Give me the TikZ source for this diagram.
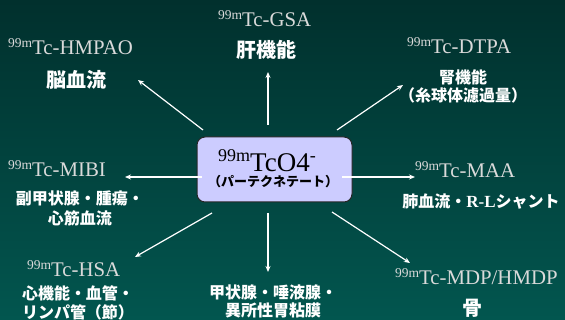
\documentclass[tikz,border=0pt]{standalone}
\usepackage{fontspec}
\setmainfont{Liberation Serif}
\newfontfamily\jp{Noto Sans CJK JP}
\usetikzlibrary{arrows.meta}
\definecolor{bgtop}{HTML}{01302D}
\definecolor{bgbot}{HTML}{02564F}
\definecolor{boxfill}{HTML}{CCCCFF}
\definecolor{lbl}{HTML}{DADADA}
\newcommand\tcname[1]{\raisebox{7pt}{\fontsize{13.5}{13.5}\selectfont 99m}#1}
\begin{document}
\begin{tikzpicture}[x=1pt,y=-1pt,
  lab/.style={anchor=base west,inner sep=0,text=lbl,font=\fontsize{20.8}{21}\selectfont},
  jpl/.style={inner sep=0,text=white,font=\jp\bfseries\fontsize{16}{19}\selectfont,align=center},
  jpbig/.style={jpl,font=\jp\bfseries\fontsize{20}{22}\selectfont},
  arr/.style={draw=white,line width=1.2pt,-{Stealth[length=6pt,width=5pt]}}]
\useasboundingbox (0,0) rectangle (565,320);
\shade[top color=bgtop,bottom color=bgbot] (0,0) rectangle (565,320);
% centre box
\node[draw=black!85,line width=1pt,fill=boxfill,rounded corners=8pt,minimum width=155pt,minimum height=65pt,inner sep=0] (c) at (274.5,169.5) {};
\node[anchor=base west,inner sep=0,font=\fontsize{27}{27}\selectfont] (ct) at (218,172) {\raisebox{10pt}{\fontsize{18}{18}\selectfont 99m}TcO4\raisebox{10pt}{\fontsize{18}{18}\selectfont -}};
\node[inner sep=0,font=\jp\bfseries\fontsize{13}{13}\selectfont] (cj) at (273,182) {（パーテクネテート）};
% labels
\node[lab] (t1) at (8,55) {\tcname{Tc-HMPAO}};
\node[jpbig] (j1) at (76,80) {脳血流};
\node[lab] (t2) at (218,27) {\tcname{Tc-GSA}};
\node[jpbig] (j2) at (266,50) {肝機能};
\node[lab] (t3) at (407,54) {\tcname{Tc-DTPA}};
\node[jpl,font=\jp\bfseries\fontsize{16}{18}\selectfont] (j3) at (463,86) {腎機能\\（糸球体濾過量）};
\node[lab] (t4) at (8,177) {\tcname{Tc-MIBI}};
\node[jpl,font=\jp\bfseries\fontsize{16}{20}\selectfont] (j4) at (80,208) {副甲状腺・腫瘍・\\心筋血流};
\node[lab] (t5) at (415,178) {\tcname{Tc-MAA}};
\node[jpl] (j5) at (481,202) {肺血流・{\rmfamily\bfseries\fontsize{17}{17}\selectfont R-L}シャント};
\node[lab] (t6) at (27,277) {\tcname{Tc-HSA}};
\node[jpl] (j6) at (78,302.5) {心機能・血管・\\リンパ管（節）};
\node[jpl,font=\jp\bfseries\fontsize{16}{18}\selectfont] (j7) at (273,301) {甲状腺・唾液腺・\\異所性胃粘膜};
\node[lab] (t8) at (395,285) {\tcname{Tc-MDP/HMDP}};
\node[jpbig] (j8) at (472,308) {骨};
% arrow coordinates
\coordinate (s1) at (203,130); \coordinate (e1) at (138,80);
\coordinate (s2) at (268,125); \coordinate (e2) at (268,72);
\coordinate (s3) at (337,130); \coordinate (e3) at (403,85);
\coordinate (s4) at (202,177); \coordinate (e4) at (125,177);
\coordinate (s5) at (342,177); \coordinate (e5) at (415,177);
\coordinate (s6) at (212,213); \coordinate (e6) at (135,257);
\coordinate (s7) at (268,213); \coordinate (e7) at (268,272);
\coordinate (s8) at (332,212); \coordinate (e8) at (410,263);
\foreach \i in {1,...,8} {\draw[arr] (s\i) -- (e\i);}
\end{tikzpicture}
\end{document}
